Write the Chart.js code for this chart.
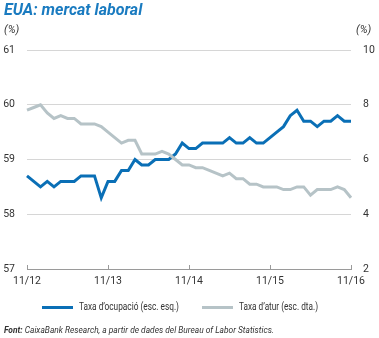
<!DOCTYPE html>
<html>
<head>
<meta charset="utf-8">
<script src="https://cdn.jsdelivr.net/npm/chart.js@4.4.0/dist/chart.umd.min.js"></script>
<style>
  body { margin: 0; background: #fff; }
  #wrap { position: relative; width: 379px; height: 338px; overflow: hidden;
          font-family: 'Roboto', sans-serif; color: #333; }
  #chart { position: absolute; left: 0; top: 0; }
  .txt { position: absolute; white-space: nowrap; line-height: 1; }
  #title { left: 4px; top: 2px; font-size: 16px; font-weight: bold; font-style: italic; color: #1a7bc0; }
  .unit { top: 24px; font-size: 11px; font-style: italic; }
  .sw { position: absolute; height: 3px; width: 31px; top: 306px; }
  .leg { top: 302px; font-size: 10px; }
  #foot { left: 4px; top: 325px; font-size: 9.5px; font-style: italic; }
</style>
</head>
<body>
<div id="wrap">
  <canvas id="chart" width="379" height="338"></canvas>
  <div class="txt" id="title">EUA: mercat laboral</div>
  <div class="txt unit" style="left:4px">(%)</div>
  <div class="txt unit" style="left:356px">(%)</div>
  <div class="sw" style="left:42px;background:#0a6fb6"></div>
  <div class="txt leg" id="leg1" style="left:79px">Taxa d’ocupació (esc. esq.)</div>
  <div class="sw" style="left:202px;background:#b6c3c7"></div>
  <div class="txt leg" id="leg2" style="left:239px">Taxa d’atur (esc. dta.)</div>
  <div class="txt" id="foot"><b>Font:</b> CaixaBank Research, a partir de dades del Bureau of Labor Statistics.</div>
</div>
<script>
var months = [
  '11/12','12/12',
  '01/13','02/13','03/13','04/13','05/13','06/13','07/13','08/13','09/13','10/13','11/13','12/13',
  '01/14','02/14','03/14','04/14','05/14','06/14','07/14','08/14','09/14','10/14','11/14','12/14',
  '01/15','02/15','03/15','04/15','05/15','06/15','07/15','08/15','09/15','10/15','11/15','12/15',
  '01/16','02/16','03/16','04/16','05/16','06/16','07/16','08/16','09/16','10/16','11/16'
];
var tickLabels = ['11/12','11/13','11/14','11/15','11/16'];

// taxa d'ocupació (%), escala esquerra
var ocupacio = [
  58.7,58.6,58.5,58.6,58.5,58.6,58.6,58.6,58.7,58.7,
  58.7,58.3,58.6,58.6,58.8,58.8,59.0,58.9,58.9,59.0,
  59.0,59.0,59.1,59.3,59.2,59.2,59.3,59.3,59.3,59.3,
  59.4,59.3,59.3,59.4,59.3,59.3,59.4,59.5,59.6,59.8,
  59.9,59.7,59.7,59.6,59.7,59.7,59.8,59.7,59.7
];
// taxa d'atur (%), escala dreta
var atur = [
  7.8,7.9,8.0,7.7,7.5,7.6,7.5,7.5,7.3,7.3,
  7.3,7.2,7.0,6.8,6.6,6.7,6.7,6.2,6.2,6.2,
  6.3,6.2,6.0,5.8,5.8,5.7,5.7,5.6,5.5,5.4,
  5.5,5.3,5.3,5.1,5.1,5.0,5.0,5.0,4.9,4.9,
  5.0,5.0,4.7,4.9,4.9,4.9,5.0,4.9,4.6
];

var blue = '#0a6fb6';
var grey = '#b6c3c7';
var tickFont = { family: "'Roboto', sans-serif", size: 10.5 };

// squeeze a text box to the width it has in the original layout
function fitWidth(id, w) {
  var el = document.getElementById(id);
  el.style.transformOrigin = 'left center';
  el.style.transform = 'scaleX(' + (w / el.getBoundingClientRect().width) + ')';
}
fitWidth('leg1', 100);
fitWidth('leg2', 79);
fitWidth('foot', 270);

var tickMarks = {
  id: 'tickMarks',
  afterDraw: function(chart) {
    var ctx = chart.ctx;
    var xs = chart.scales.x;
    var b = chart.chartArea.bottom;
    ctx.save();
    ctx.strokeStyle = '#9a9a9a';
    ctx.lineWidth = 1;
    tickLabels.forEach(function(l) {
      var px = Math.round(xs.getPixelForValue(months.indexOf(l))) + 0.5;
      ctx.beginPath();
      ctx.moveTo(px, b);
      ctx.lineTo(px, b - 4);
      ctx.stroke();
    });
    ctx.restore();
  }
};

new Chart(document.getElementById('chart'), {
  type: 'line',
  data: {
    labels: months,
    datasets: [
      {
        label: "Taxa d'atur (esc. dta.)",
        data: atur,
        yAxisID: 'y1',
        borderColor: grey,
        backgroundColor: grey,
        borderWidth: 3,
        pointRadius: 0,
        tension: 0
      },
      {
        label: "Taxa d'ocupació (esc. esq.)",
        data: ocupacio,
        yAxisID: 'y',
        borderColor: blue,
        backgroundColor: blue,
        borderWidth: 3,
        pointRadius: 0,
        tension: 0
      }
    ]
  },
  options: {
    responsive: false,
    animation: false,
    layout: { padding: { top: 50, left: 0, right: 0, bottom: 0 } },
    plugins: { legend: { display: false }, tooltip: { enabled: false } },
    scales: {
      x: {
        grid: { display: false, drawTicks: false },
        border: { display: true, color: '#9a9a9a' },
        ticks: {
          autoSkip: false, maxRotation: 0, padding: 6, color: '#333', font: tickFont,
          callback: function(v, i) {
            var l = months[i];
            return tickLabels.indexOf(l) >= 0 ? l : '';
          }
        },
        afterFit: function(s) { s.height = 69; }
      },
      y: {
        position: 'left', min: 57, max: 61,
        ticks: { stepSize: 1, padding: 12, color: '#333', font: tickFont },
        grid: { color: '#d6d6d6', drawTicks: false },
        border: { display: false },
        afterFit: function(s) { s.width = 27; }
      },
      y1: {
        position: 'right', min: 2, max: 10,
        ticks: { stepSize: 2, padding: 12, color: '#333', font: tickFont },
        grid: { display: false, drawTicks: false },
        border: { display: false },
        afterFit: function(s) { s.width = 28; }
      }
    }
  },
  plugins: [tickMarks]
});
</script>
</body>
</html>
